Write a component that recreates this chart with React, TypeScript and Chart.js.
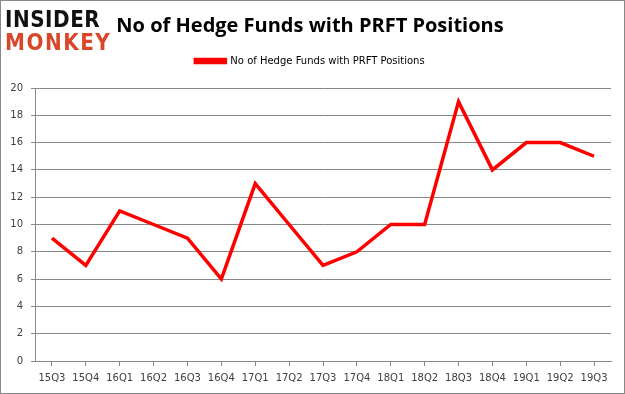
import React, { useEffect, useRef } from "react";
import { Chart, registerables } from "chart.js";

Chart.register(...registerables);

const categories = ["15Q3","15Q4","16Q1","16Q2","16Q3","16Q4","17Q1","17Q2","17Q3","17Q4","18Q1","18Q2","18Q3","18Q4","19Q1","19Q2","19Q3"];
const hedgeFunds = [9,7,11,10,9,6,13,10,7,8,10,10,19,14,16,16,15];
const seriesName = "No of Hedge Funds with PRFT Positions";
const titleText = "No of Hedge Funds with PRFT Positions";

export default function App() {
  const ref = useRef<HTMLCanvasElement | null>(null);
  useEffect(() => {
    const chart = new Chart(ref.current!, {
      type: "line",
      data: {
        labels: categories,
        datasets: [{
          label: seriesName,
          data: hedgeFunds,
          borderColor: "#ff0000",
          backgroundColor: "#ff0000",
          borderWidth: 3.5,
          pointRadius: 0,
          tension: 0,
        }],
      },
      options: {
        animation: false,
        responsive: false,
        layout: { padding: { left: 8, right: 13, top: 6, bottom: 3 } },
        plugins: {
          title: {
            display: true,
            text: titleText,
            color: "#000",
            font: { family: "Open Sans", size: 20, weight: "bold", lineHeight: 1 },
            padding: { top: 9, bottom: 0 },
          },
          subtitle: {
            display: true,
            text: " ",
            weight: 500,
            font: { size: 1, lineHeight: 1 },
            padding: { top: 0, bottom: 11 },
          },
          legend: {
            display: true,
            labels: {
              boxWidth: 30,
              boxHeight: 3,
              color: "#000",
              font: { family: "DejaVu Sans", size: 10 },
              padding: 20,
            },
          },
          tooltip: { enabled: false },
        },
        scales: {
          x: {
            offset: true,
            grid: { display: true, drawOnChartArea: false, drawTicks: true, tickLength: 5, color: "#888" },
            border: { color: "#888" },
            ticks: { color: "#404040", font: { family: "DejaVu Sans", size: 10 }, maxRotation: 0, autoSkip: false, padding: 6 },
          },
          y: {
            min: 0,
            max: 20,
            afterFit: (s: any) => { s.width = 26; },
            grid: { color: "#888", drawTicks: true, tickLength: 4 },
            border: { color: "#888" },
            ticks: { stepSize: 2, color: "#404040", font: { family: "DejaVu Sans", size: 10 }, padding: 8 },
          },
        },
      },
    });
    return () => chart.destroy();
  }, []);
  return (
    <div style={{ position: "fixed", left: 0, top: 0, width: 625, height: 394, boxSizing: "border-box", border: "1px solid #888", background: "#fff" }}>
      <canvas ref={ref} width={623} height={392} style={{ display: "block" }} />
      <div style={{ position: "absolute", left: 4, top: 6, fontFamily: "DejaVu Sans", fontWeight: 900, lineHeight: "20px", fontSize: 20, transform: "scaleY(1.15)", transformOrigin: "top left" }}>
        <div style={{ color: "#111", letterSpacing: 0.5 }}>INSIDER</div>
        <div style={{ color: "#d9472b", letterSpacing: 1.5 }}>MONKEY</div>
      </div>
    </div>
  );
}
